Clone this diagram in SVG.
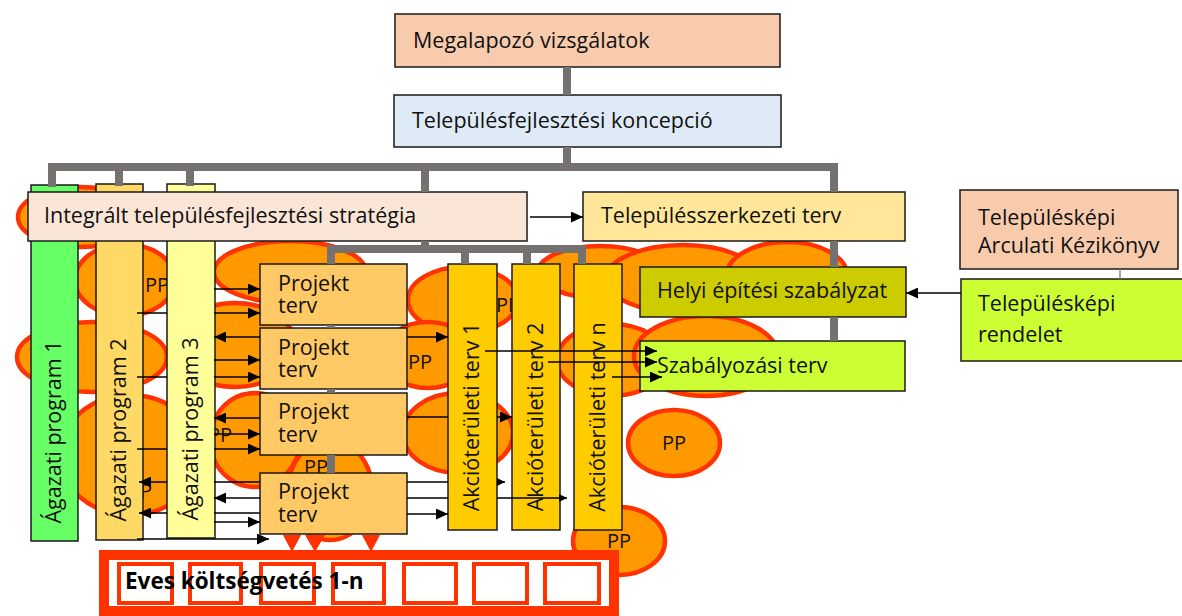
<svg xmlns="http://www.w3.org/2000/svg" width="1182" height="616" viewBox="0 0 1182 616">
<style>
.t{font-family:"Open Sans","Liberation Sans",sans-serif;font-size:21.5px;fill:#111}
.pp{font-family:"Open Sans","Liberation Sans",sans-serif;font-size:20px;fill:#111}
.b{font-family:"Open Sans","Liberation Sans",sans-serif;font-size:22.5px;font-weight:bold;fill:#000}
.box{stroke:#1a1a1a;stroke-width:1.5}
.ell{fill:#ff9900;stroke:#ff3300;stroke-width:4.5}
.g{stroke:#767171;stroke-width:8;fill:none}
.a{stroke:#000;stroke-width:1.5;fill:none;marker-end:url(#ah)}
.as{stroke:#000;stroke-width:1.5;fill:none;marker-end:url(#ahs)}
.red{fill:#ff3300}
.bud{fill:none;stroke:#ff3300;stroke-width:4}
</style>
<defs>
<marker id="ah" viewBox="0 0 12 11" refX="12" refY="5.5" markerWidth="12" markerHeight="11" markerUnits="userSpaceOnUse" orient="auto"><path d="M0,0 L12,5.5 L0,11 z" fill="#000"/></marker>
<marker id="ahs" viewBox="0 0 8 8" refX="8" refY="4" markerWidth="8" markerHeight="8" markerUnits="userSpaceOnUse" orient="auto"><path d="M0,0 L8,4 L0,8 z" fill="#000"/></marker>
</defs>
<rect width="1182" height="616" fill="#fff"/>

<g id="pp-nodes">
<g id="pp1"><ellipse class="ell" cx="80" cy="217" rx="62" ry="30"/></g>
<g id="pp2"><ellipse class="ell" cx="125" cy="280" rx="50" ry="36"/><text class="pp" x="157" y="292" text-anchor="middle">PP</text></g>
<g id="pp3"><ellipse class="ell" cx="290" cy="272" rx="76" ry="31"/></g>
<g id="pp4"><ellipse class="ell" cx="463" cy="300" rx="55" ry="33"/><text class="pp" x="508" y="312" text-anchor="middle">PP</text></g>
<g id="pp5"><ellipse class="ell" cx="92" cy="357" rx="75" ry="35"/></g>
<g id="pp6"><ellipse class="ell" cx="235" cy="345" rx="60" ry="42"/></g>
<g id="pp7"><ellipse class="ell" cx="428" cy="355" rx="45" ry="33"/><text class="pp" x="420" y="369" text-anchor="middle">PP</text></g>
<g id="pp8"><ellipse class="ell" cx="130" cy="455" rx="70" ry="60"/><text class="pp" x="140" y="498" text-anchor="middle">PP</text></g>
<g id="pp9"><ellipse class="ell" cx="255" cy="440" rx="45" ry="47"/><text class="pp" x="220" y="442" text-anchor="middle">PP</text></g>
<g id="pp10"><ellipse class="ell" cx="458" cy="433" rx="55" ry="40"/></g>
<g id="pp11"><ellipse class="ell" cx="330" cy="490" rx="42" ry="50"/><text class="pp" x="316" y="474" text-anchor="middle">PP</text></g>
<g id="pp12"><ellipse class="ell" cx="612" cy="360" rx="55" ry="36"/></g>
<g id="pp13"><ellipse class="ell" cx="706" cy="356" rx="72" ry="40"/></g>
<g id="pp14"><ellipse class="ell" cx="600" cy="272" rx="62" ry="26"/></g>
<g id="pp15"><ellipse class="ell" cx="683" cy="279" rx="77" ry="34"/></g>
<g id="pp16"><ellipse class="ell" cx="787" cy="275" rx="60" ry="33"/></g>
<g id="pp17"><ellipse class="ell" cx="674" cy="443" rx="46" ry="33"/><text class="pp" x="674" y="450" text-anchor="middle">PP</text></g>
<g id="pp18"><ellipse class="ell" cx="619" cy="541" rx="46" ry="34"/><text class="pp" x="619" y="548" text-anchor="middle">PP</text></g>
</g>

<g id="budget">
<rect x="104" y="555" width="510" height="56" fill="#fff" stroke="#ff3300" stroke-width="10"/>
<rect class="bud" x="119" y="564" width="53" height="39"/>
<rect class="bud" x="190" y="564" width="51" height="39"/>
<rect class="bud" x="261" y="564" width="53" height="39"/>
<rect class="bud" x="333" y="564" width="51" height="39"/>
<rect class="bud" x="404" y="564" width="52" height="39"/>
<rect class="bud" x="474" y="564" width="53" height="39"/>
<rect class="bud" x="545" y="564" width="54" height="39"/>
<text class="b" x="125" y="589">Eves költségvetés 1-n</text>
</g>

<g id="agazati-1"><rect class="box" x="31" y="185" width="47" height="356" fill="#66ff66"/><text class="t" transform="translate(61,432) rotate(-90)" text-anchor="middle">Ágazati program 1</text></g>
<g id="agazati-2"><rect class="box" x="96" y="184" width="47" height="356" fill="#ffd966"/><text class="t" transform="translate(126,430) rotate(-90)" text-anchor="middle">Ágazati program 2</text></g>
<g id="agazati-3"><rect class="box" x="167" y="184" width="48" height="354" fill="#ffff99"/><text class="t" transform="translate(198,429) rotate(-90)" text-anchor="middle">Ágazati program 3</text></g>

<g id="megalapozo"><rect class="box" x="395" y="14" width="385" height="53" fill="#f8cbad"/><text class="t" x="413" y="48">Megalapozó vizsgálatok</text></g>
<g id="koncepcio"><rect class="box" x="394" y="95" width="387" height="52" fill="#deebf7"/><text class="t" x="412" y="128">Településfejlesztési koncepció</text></g>
<g id="strategia"><rect class="box" x="28" y="192" width="499" height="49" fill="#fbe5d6"/><text class="t" x="44" y="223">Integrált településfejlesztési stratégia</text></g>
<g id="szerkezeti"><rect class="box" x="583" y="192" width="322" height="49" fill="#ffe699"/><text class="t" x="601" y="223">Településszerkezeti terv</text></g>
<g id="kezikonyv"><rect class="box" x="960" y="190" width="218" height="79" fill="#f8cbad"/><text class="t" x="978" y="225">Településképi<tspan x="978" dy="28">Arculati Kézikönyv</tspan></text></g>
<g id="rendelet"><rect class="box" x="961" y="279" width="222" height="82" fill="#ccff33"/><text class="t" x="978" y="311">Településképi<tspan x="978" dy="31">rendelet</tspan></text></g>
<g id="hesz"><rect class="box" x="640" y="267" width="266" height="50" fill="#cccc00"/><text class="t" x="657" y="298">Helyi építési szabályzat</text></g>
<g id="szabalyozasi"><rect class="box" x="640" y="341" width="265" height="50" fill="#ccff33"/><text class="t" x="657" y="373">Szabályozási terv</text></g>

<g id="projekt-1"><rect class="box" x="260" y="264" width="147" height="61" fill="#ffc966"/><text class="t" x="278" y="291">Projekt<tspan x="278" dy="22">terv</tspan></text></g>
<g id="projekt-2"><rect class="box" x="260" y="328" width="147" height="61" fill="#ffc966"/><text class="t" x="278" y="355">Projekt<tspan x="278" dy="22">terv</tspan></text></g>
<g id="projekt-3"><rect class="box" x="260" y="393" width="147" height="62" fill="#ffc966"/><text class="t" x="278" y="419">Projekt<tspan x="278" dy="23">terv</tspan></text></g>
<g id="projekt-4"><rect class="box" x="260" y="473" width="147" height="61" fill="#ffc966"/><text class="t" x="278" y="499">Projekt<tspan x="278" dy="23">terv</tspan></text></g>

<g id="akcio-1"><rect class="box" x="448" y="264" width="49" height="266" fill="#ffcc00"/><text class="t" transform="translate(479,417) rotate(-90)" text-anchor="middle">Akcióterületi terv 1</text></g>
<g id="akcio-2"><rect class="box" x="512" y="264" width="48" height="266" fill="#ffcc00"/><text class="t" transform="translate(543,417) rotate(-90)" text-anchor="middle">Akcióterületi terv 2</text></g>
<g id="akcio-n"><rect class="box" x="574" y="264" width="48" height="266" fill="#ffcc00"/><text class="t" transform="translate(605,417) rotate(-90)" text-anchor="middle">Akcióterületi terv n</text></g>

<g id="connectors">
<path class="g" d="M567,67 V95 M567,147 V167 M48,167 H838 M52,167 V187 M119,167 V186 M190,167 V186 M425,167 V192 M834,167 V192"/>
<path class="g" d="M425,241 V249 M327,249 H586 M331,249 V264 M331,325 V328 M331,389 V393 M331,455 V473 M465,249 V264 M527,249 V264 M582,249 V264"/>
<path class="g" d="M834,241 V267 M834,317 V341"/>
<path d="M1120,269 V279" stroke="#888" stroke-width="1.5"/>
<path class="a" d="M530,217 H583"/>
<path class="a" d="M961,293 H906"/>
<path class="a" d="M214,289 H260"/>
<path class="a" d="M137,313 H167 M214,313 H260"/>
<path class="a" d="M260,337 H214"/>
<path class="a" d="M407,337 H448"/>
<path class="a" d="M214,360 H260"/>
<path class="a" d="M137,377 H167 M214,377 H260"/>
<path class="a" d="M260,418 H214"/>
<path class="a" d="M214,434 H260"/>
<path class="a" d="M137,449 H167 M214,449 H260"/>
<path class="a" d="M260,482 H214 M167,482 H139"/>
<path class="a" d="M260,498 H214"/>
<path class="a" d="M260,513 H214 M167,513 H139"/>
<path class="a" d="M214,522 H260"/>
<path class="a" d="M137,539 H269"/>
<path class="a" d="M407,417 H448 M497,417 H512"/>
<path class="as" d="M407,482 H448 M497,482 H505"/>
<path class="as" d="M407,498 H448 M497,498 H567"/>
<path class="a" d="M407,514 H448"/>
<path class="a" d="M485,351 H657"/>
<path class="a" d="M548,362 H657"/>
<path class="a" d="M612,377 H662"/>
<polygon class="red" points="283,535 301,535 292,552"/>
<polygon class="red" points="305,535 325,535 315,552"/>
<polygon class="red" points="362,535 380,535 371,552"/>
</g>
</svg>
